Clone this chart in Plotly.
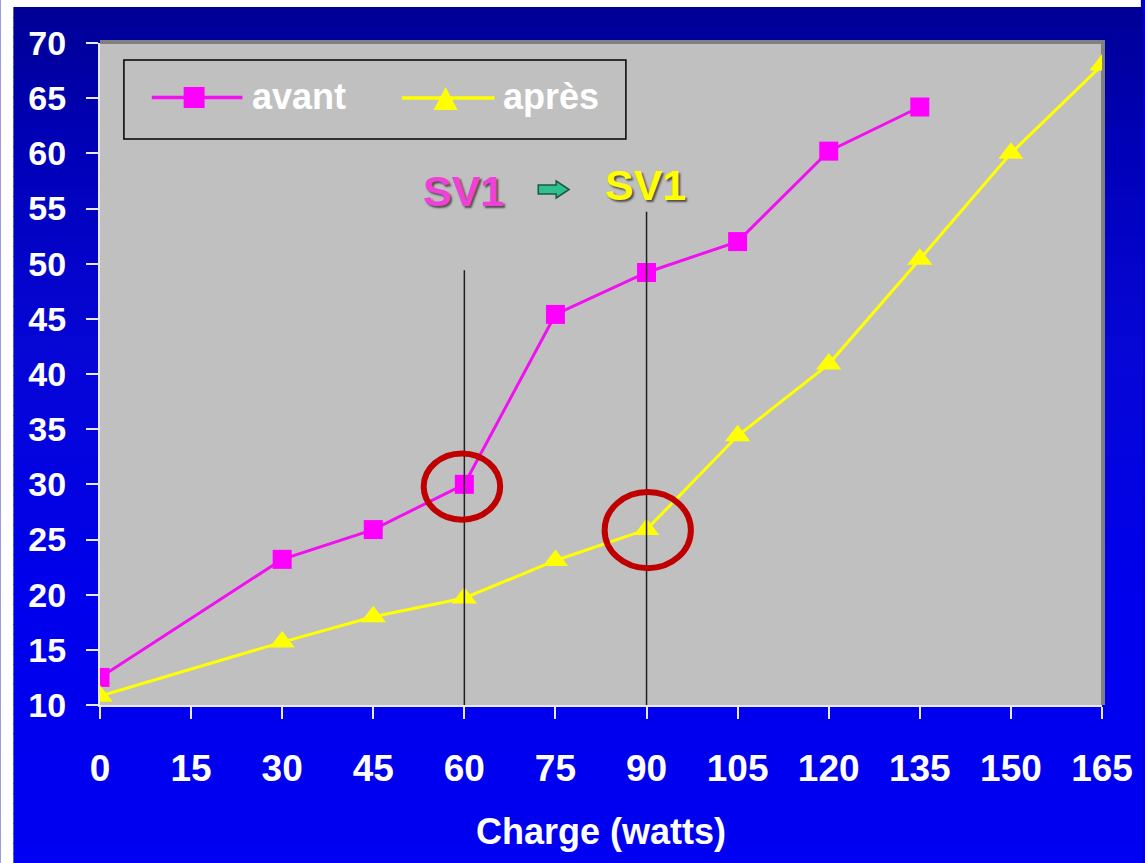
import plotly.graph_objects as go

# Charge (watts) and the two measured series
charge = [0, 30, 45, 60, 75, 90, 105, 120, 135, 150, 165]
avant = [12.5, 23.2, 25.9, 30.0, 45.4, 49.2, 52.0, 60.2, 64.2]
apres = [10.8, 15.7, 18.0, 19.7, 23.1, 25.9, 34.4, 40.9, 50.4, 60.0, 68.0]
series_names = ["avant", "après"]

x_ticks = [0, 15, 30, 45, 60, 75, 90, 105, 120, 135, 150, 165]
y_ticks = [10, 15, 20, 25, 30, 35, 40, 45, 50, 55, 60, 65, 70]

# SV1 markers: charge and top of each vertical guide
sv1_avant = (60, 49.4)
sv1_apres = (90, 54.7)

MAGENTA_LINE, MAGENTA = "#F010F0", "#FF00FF"
YELLOW = "#FFFF00"

W, H = 1145, 863
L, R, T, B = 100, 39, 43, 158
PW, PH = W - L - R, H - T - B


def px(xp):
    return (xp - L) / PW


def py(yp):
    return (H - B - yp) / PH


def lerp_color(y):
    stops = [(0, (0, 0, 148)), (150, (0, 0, 184)), (350, (6, 6, 214)),
             (600, (0, 0, 236)), (863, (0, 0, 242))]
    for (y0, c0), (y1, c1) in zip(stops, stops[1:]):
        if y0 <= y <= y1:
            t = (y - y0) / (y1 - y0)
            c = [round(a + (b - a) * t) for a, b in zip(c0, c1)]
            return f"rgb({c[0]},{c[1]},{c[2]})"
    return "rgb(0,0,242)"


def paper_path(points):
    pts = " L ".join(f"{px(a):.5f},{py(b):.5f}" for a, b in points)
    return f"M {pts} Z"


shapes = []
# white margin on left and top
shapes.append(dict(type="rect", xref="paper", yref="paper", layer="below",
                   x0=px(0), x1=px(W), y0=py(0), y1=py(H),
                   fillcolor="white", line_width=0))
# vertical blue gradient background
n = 86
top, bottom = 7, H
step = (bottom - top) / n
for i in range(n):
    y0 = top + i * step
    y1 = y0 + step + 0.8
    shapes.append(dict(type="rect", xref="paper", yref="paper", layer="below",
                       x0=px(13), x1=px(W + 2), y0=py(y1), y1=py(y0),
                       fillcolor=lerp_color(y0 + step / 2), line_width=0))
# plot area with darker edge on top and right
shapes.append(dict(type="rect", xref="paper", yref="paper", layer="below",
                   x0=px(100), x1=px(1109), y0=py(705), y1=py(40),
                   fillcolor="#808080", line_width=0))
shapes.append(dict(type="rect", xref="paper", yref="paper", layer="below",
                   x0=px(100), x1=px(1105), y0=py(705), y1=py(44),
                   fillcolor="#C0C0C0", line_width=0))

# vertical guides at SV1
for gx, gy in (sv1_avant, sv1_apres):
    shapes.append(dict(type="line", xref="x", yref="y", x0=gx, x1=gx,
                       y0=10, y1=gy, line=dict(color="#202020", width=1.5)))

# red rings around the SV1 points
shapes.append(dict(type="circle", xref="x", yref="y",
                   x0=53.3, x1=65.9, y0=26.8, y1=32.8,
                   line=dict(color="#C00000", width=6)))
shapes.append(dict(type="circle", xref="x", yref="y",
                   x0=83.1, x1=97.3, y0=22.4, y1=29.3,
                   line=dict(color="#C00000", width=6)))

# small green block arrow between the two SV1 labels
arrow_pts = [(540, 185), (558, 185), (558, 181), (571, 189.5),
             (558, 198), (558, 194), (540, 194)]
shapes.append(dict(type="path", xref="paper", yref="paper",
                   path=paper_path(arrow_pts),
                   fillcolor="#2EC08E", line=dict(color="#1A5A40", width=1.5)))

# legend box drawn by hand: frame, line samples and marker glyphs
shapes.append(dict(type="rect", xref="paper", yref="paper",
                   x0=px(124), x1=px(628), y0=py(139), y1=py(60),
                   line=dict(color="#000000", width=1.5)))
shapes.append(dict(type="line", xref="paper", yref="paper",
                   x0=px(152), x1=px(243), y0=py(97.5), y1=py(97.5),
                   line=dict(color=MAGENTA_LINE, width=3.5)))
shapes.append(dict(type="rect", xref="paper", yref="paper",
                   x0=px(184), x1=px(205), y0=py(108), y1=py(87),
                   fillcolor=MAGENTA, line_width=0))
shapes.append(dict(type="line", xref="paper", yref="paper",
                   x0=px(403), x1=px(496), y0=py(98), y1=py(98),
                   line=dict(color=YELLOW, width=3.5)))
shapes.append(dict(type="path", xref="paper", yref="paper",
                   path=paper_path([(435, 110), (459, 110), (447, 87)]),
                   fillcolor=YELLOW, line_width=0))

fig = go.Figure()
fig.add_trace(go.Scatter(
    x=charge[:len(avant)], y=avant, name=series_names[0], mode="lines+markers",
    line=dict(color=MAGENTA_LINE, width=3),
    marker=dict(symbol="square", size=19, color=MAGENTA),
))
fig.add_trace(go.Scatter(
    x=charge[:len(apres)], y=apres, name=series_names[1], mode="lines+markers",
    line=dict(color=YELLOW, width=3),
    marker=dict(symbol="triangle-up", size=22, color=YELLOW),
))

font_family = "Liberation Sans, Arial, sans-serif"
annotations = [
    dict(xref="paper", yref="paper", x=px(465), y=py(191), text="<b>SV1</b>",
         showarrow=False, xanchor="center", yanchor="middle",
         font=dict(family=font_family, size=43, color="#F040D8",
                   shadow="2px 2px 2px #505050")),
    dict(xref="paper", yref="paper", x=px(648), y=py(185), text="<b>SV1</b>",
         showarrow=False, xanchor="center", yanchor="middle",
         font=dict(family=font_family, size=43, color=YELLOW,
                   shadow="2px 2px 2px #505050")),
    dict(xref="paper", yref="paper", x=px(251), y=py(96), text="<b>avant</b>",
         showarrow=False, xanchor="left", yanchor="middle",
         font=dict(family=font_family, size=36, color="white")),
    dict(xref="paper", yref="paper", x=px(503), y=py(96), text="<b>après</b>",
         showarrow=False, xanchor="left", yanchor="middle",
         font=dict(family=font_family, size=36, color="white")),
]

fig.update_layout(
    width=W, height=H, autosize=False,
    margin=dict(l=L, r=R, t=T, b=B),
    paper_bgcolor="#0000C8", plot_bgcolor="rgba(0,0,0,0)",
    shapes=shapes, annotations=annotations,
    showlegend=False,
    xaxis=dict(
        range=[0, 165], tickvals=x_ticks, ticktext=[str(v) for v in x_ticks],
        showgrid=False, zeroline=False, showline=True, linecolor="#E8E8F0",
        linewidth=2, ticks="outside", ticklen=12, tickwidth=2,
        tickcolor="#E8E8F0", ticklabelstandoff=18,
        tickfont=dict(family=font_family, size=37, color="white", weight="bold"),
        title=dict(text="<b>Charge (watts)</b>", standoff=30,
                   font=dict(family=font_family, size=36, color="white")),
    ),
    yaxis=dict(
        range=[10, 70], tickvals=y_ticks,
        showgrid=False, zeroline=False, showline=True, linecolor="#E8E8F0",
        linewidth=2, ticks="outside", ticklen=12, tickwidth=2,
        tickcolor="#E8E8F0", ticklabelstandoff=13,
        tickfont=dict(family=font_family, size=34, color="white", weight="bold"),
    ),
)

fig.write_html("out.html")
